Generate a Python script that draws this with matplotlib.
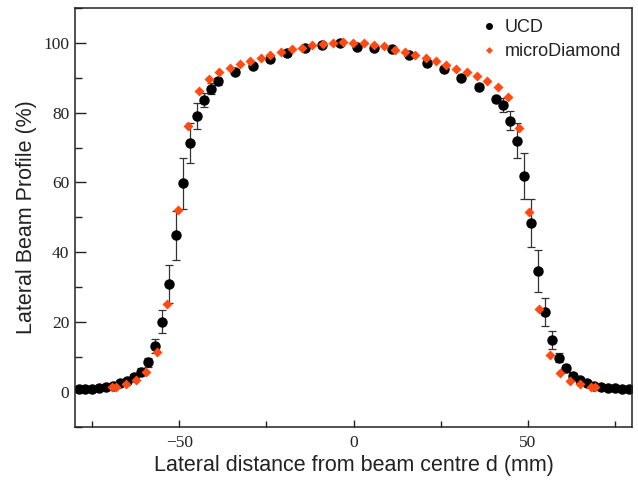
import matplotlib
matplotlib.use("Agg")
import matplotlib.pyplot as plt
from matplotlib.ticker import MultipleLocator
from matplotlib.lines import Line2D

# UCD data
ucd_x = [-79, -77, -75, -73, -71, -69, -67, -65, -63, -61, -59, -57, -55, -53, -51,
         -49, -47, -45, -43, -41, -39,
         -34, -29, -24, -19, -14, -9, -4, 1, 6, 11, 16, 21, 26, 31, 36,
         41, 43, 45, 47, 49, 51, 53, 55, 57, 59, 61, 63, 65, 67, 69, 71, 73, 75, 77, 79]
ucd_y = [0.8, 0.8, 0.9, 1.0, 1.3, 1.8, 2.4, 3.1, 4.3, 5.7, 8.5, 13.2, 20.1, 30.9, 44.9,
         59.8, 71.3, 79.1, 83.5, 86.9, 89.0,
         91.8, 93.3, 95.4, 97.0, 98.4, 99.5, 100.0, 98.8, 98.4, 98.3, 96.4, 94.3, 92.6, 90.0, 87.5,
         83.9, 82.1, 77.7, 72.0, 61.9, 48.5, 34.6, 22.8, 14.8, 9.8, 6.7, 4.6, 3.4, 2.4, 1.8,
         1.5, 1.15, 0.96, 0.86, 0.86]
ucd_err = [0.3, 0.3, 0.3, 0.3, 0.3, 0.4, 0.5, 0.6, 0.8, 1.0, 1.3, 2.0, 3.3, 5.5, 7.0,
           7.3, 5.6, 3.8, 2.0, 1.5, 1.0,
           0.6, 0.6, 0.6, 0.5, 0.5, 0.5, 0.5, 0.5, 0.5, 0.5, 0.5, 0.6, 0.6, 0.6, 0.7,
           0.7, 2.0, 2.7, 5.0, 6.5, 6.9, 5.9, 4.0, 2.6, 1.4, 1.0, 0.8, 0.6, 0.5, 0.4,
           0.3, 0.3, 0.3, 0.3, 0.3]

# microDiamond data
md_x = [-69.3, -68.2, -65.3, -62.4, -59.5, -56.5, -53.5, -50.5, -47.5, -44.4, -41.6, -38.6,
        -35.6, -32.7, -29.7, -26.7, -23.9, -20.8, -17.8, -14.8, -11.9, -8.9, -5.9, -3.0, -0.1,
        2.9, 5.8, 8.8, 11.8, 14.9, 17.8, 20.7, 23.8, 26.6, 29.5, 32.6, 35.4, 38.4, 41.5,
        44.5, 47.5, 50.4, 53.2, 56.3, 59.2, 62.1, 65.1, 68.1, 69.3]
md_y = [1.4, 1.4, 2.2, 3.4, 5.7, 11.3, 25.2, 52.2, 76.1, 86.1, 89.7, 91.6,
        92.8, 94.0, 94.9, 95.8, 96.6, 97.5, 98.3, 98.6, 99.3, 99.8, 100.0, 100.2, 100.0,
        100.0, 99.5, 99.0, 98.1, 97.3, 96.5, 95.7, 94.7, 93.7, 92.6, 91.6, 90.4, 89.2, 87.5,
        84.6, 75.5, 51.4, 23.6, 10.5, 5.5, 3.2, 2.2, 1.4, 1.4]

x_ticks = [-50, 0, 50]
y_ticks = [0, 20, 40, 60, 80, 100]

md_color = '#FF4A14'

fig = plt.figure(figsize=(6.38, 4.83), dpi=100)
ax = fig.add_axes([0.1176, 0.1166, 0.8730, 0.8668])

ax.errorbar(ucd_x, ucd_y, yerr=ucd_err, fmt='o', color='black', ms=6.5,
            ecolor='#333333', elinewidth=0.9, capsize=3.2, capthick=0.9,
            zorder=2)
ax.plot(md_x, md_y, 'D', color=md_color, ms=5.4, mec='none', zorder=3)

ax.set_xlim(-80, 80)
ax.set_ylim(-10, 110)
ax.set_xticks(x_ticks)
ax.set_yticks(y_ticks)
ax.xaxis.set_minor_locator(MultipleLocator(25))
ax.yaxis.set_minor_locator(MultipleLocator(10))
ax.tick_params(axis='both', which='both', direction='in', colors='#222222',
               labelcolor='#222222', width=1.0)
ax.tick_params(axis='x', which='major', length=5, pad=6)
ax.tick_params(axis='x', which='minor', length=4.5)
ax.tick_params(axis='y', which='major', length=8, pad=4)
ax.tick_params(axis='y', which='minor', length=5)
for lab in ax.get_xticklabels() + ax.get_yticklabels():
    lab.set_fontfamily('Liberation Serif')
    lab.set_fontsize(12.5)
for sp in ax.spines.values():
    sp.set_linewidth(1.1)
    sp.set_color('#222222')

ax.set_xlabel('Lateral distance from beam centre d (mm)', fontfamily='Liberation Sans',
              fontsize=15.5, color='#222222', labelpad=3)
ax.set_ylabel('Lateral Beam Profile (%)', fontfamily='Liberation Sans',
              fontsize=15.5, color='#222222', labelpad=5)

handles = [Line2D([], [], ls='none', marker='o', color='black', ms=4),
           Line2D([], [], ls='none', marker='D', color=md_color, mec='none', ms=3.5)]
leg = ax.legend(handles, ['UCD', 'microDiamond'], loc='upper right', frameon=False,
                prop={'family': 'Liberation Sans', 'size': 13},
                handletextpad=0.3, handlelength=1.2, borderaxespad=0.2,
                labelspacing=0.4)
for t in leg.get_texts():
    t.set_color('#222222')

fig.savefig('out.png', dpi=100)
